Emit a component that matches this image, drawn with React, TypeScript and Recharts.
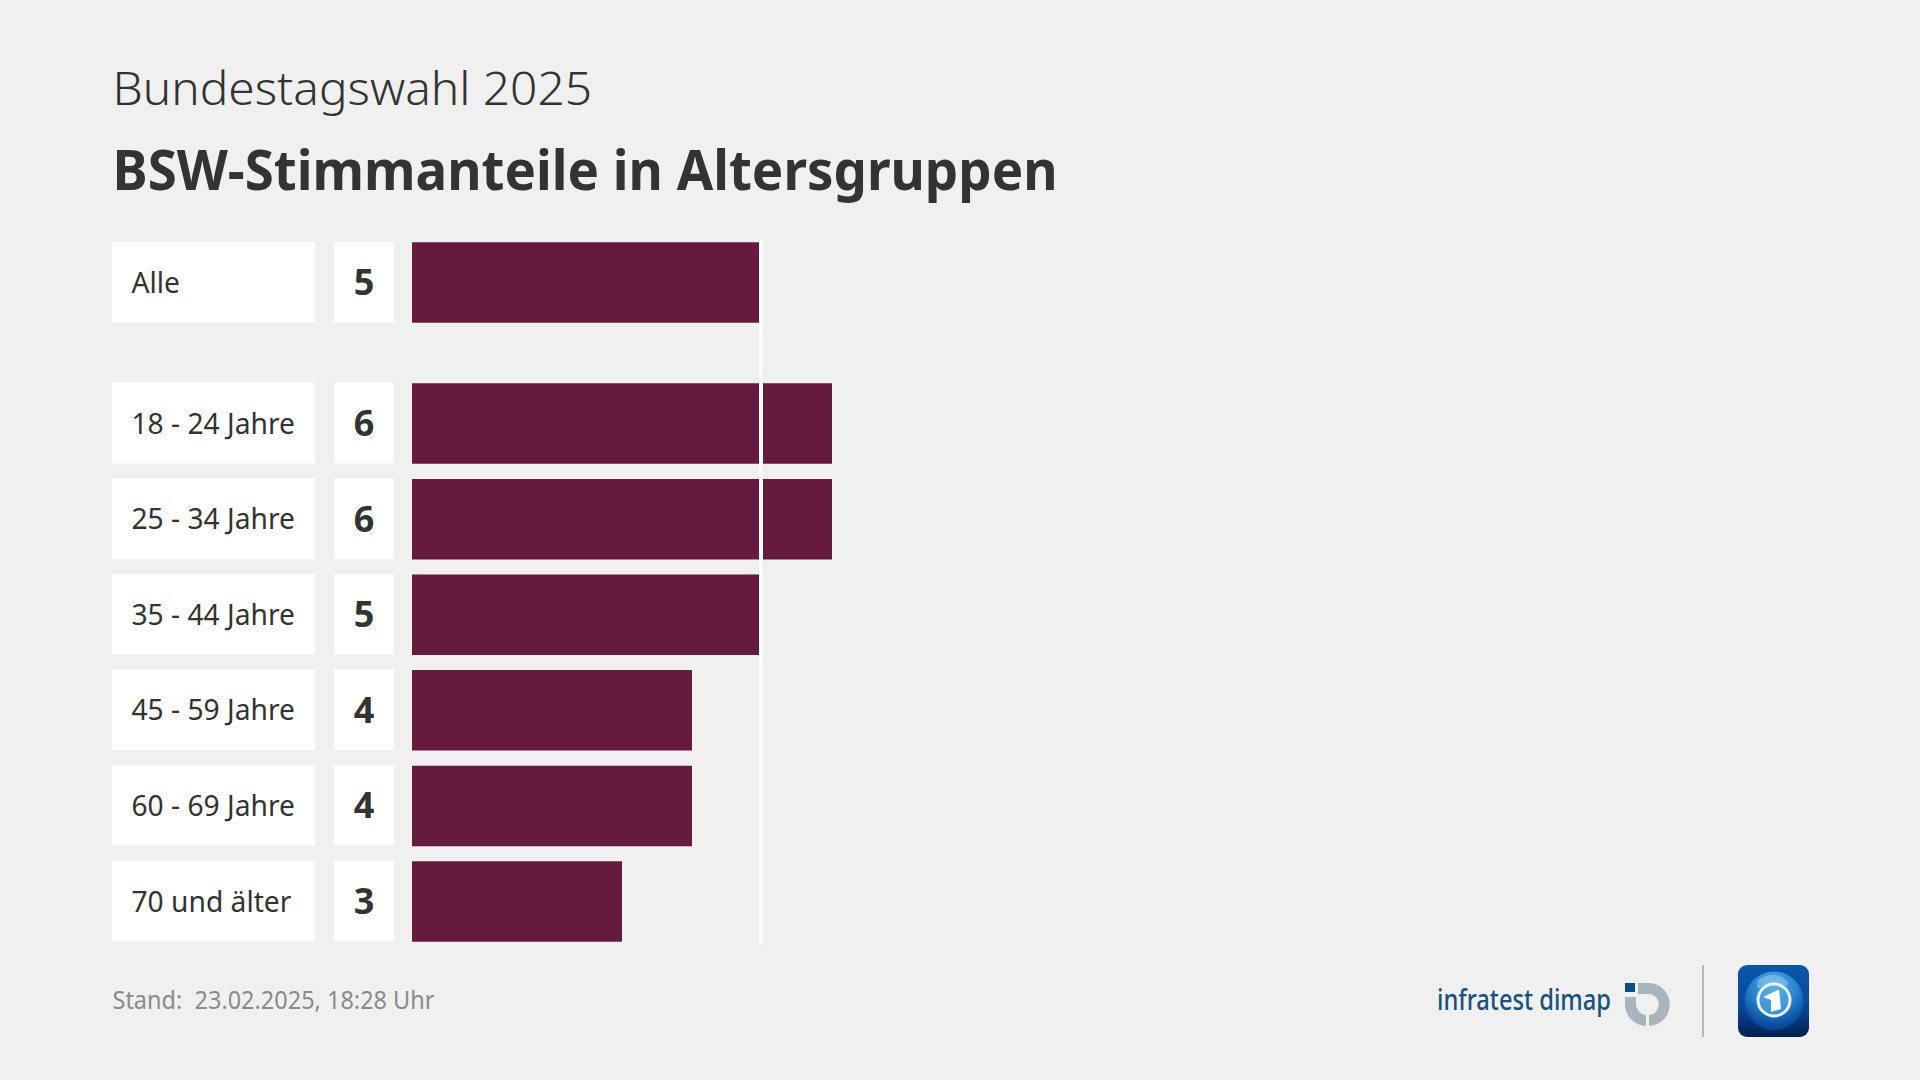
import React from "react";
import { BarChart, Bar, XAxis, YAxis, ReferenceLine } from "recharts";

const categories = ["Alle", "18 - 24 Jahre", "25 - 34 Jahre", "35 - 44 Jahre", "45 - 59 Jahre", "60 - 69 Jahre", "70 und älter"];
const shares = [5, 6, 6, 5, 4, 4, 3];
const hurdle = 5;

const FONT = "'Noto Sans', sans-serif";
const INK = "#333331";
const GROUP_GAP = 0.475;
const rows = categories.map((label, i) => ({ row: i === 0 ? 0 : i + GROUP_GAP, label, share: shares[i] }));
const rowTicks = rows.map((r) => r.row);

function RowTick(props: any) {
  const { x, y, payload } = props;
  const r = rows.find((d) => d.row === payload.value);
  if (!r) return null;
  const h = 80.5;
  return (
    <g>
      <rect x={x - 300} y={y - h / 2} width={203} height={h} fill="#ffffff" />
      <rect x={x - 78} y={y - h / 2} width={60} height={h} fill="#ffffff" />
      <text x={x - 280.5} y={y + 10.5} fontFamily={FONT} fontSize={28.2} fill={INK}>{r.label}</text>
      <text x={x - 48} y={y + 13} fontFamily={FONT} fontSize={36} fontWeight={700} fill={INK} textAnchor="middle">{r.share}</text>
    </g>
  );
}

function HurdleLine(props: any) {
  const { x1, x2, y1, y2 } = props;
  return <line x1={x1 - 1} x2={x2 - 1} y1={y1} y2={y2} stroke="#ffffff" strokeWidth={4} />;
}

function Logos() {
  return (
    <svg width={1920} height={1080} style={{ position: "absolute", left: 0, top: 0 }}>
      <defs>
        <linearGradient id="tile" x1="0" y1="0" x2="0" y2="1">
          <stop offset="0" stopColor="#0a57a8" />
          <stop offset="0.6" stopColor="#07479a" />
          <stop offset="1" stopColor="#03204f" />
        </linearGradient>
        <radialGradient id="globe" cx="0.5" cy="0.25" r="0.8">
          <stop offset="0" stopColor="#5fb4e8" />
          <stop offset="0.5" stopColor="#2580cc" />
          <stop offset="0.85" stopColor="#0a4a9c" />
          <stop offset="1" stopColor="#063a80" />
        </radialGradient>
      </defs>
      <text x={112.5} y={105} fontFamily={FONT} fontSize={46} fontWeight={300} fill={INK} textLength={479.5} lengthAdjust="spacingAndGlyphs">Bundestagswahl 2025</text>
      <text x={112.5} y={190} fontFamily={FONT} fontSize={56} fontWeight={700} fill={INK} textLength={945} lengthAdjust="spacingAndGlyphs">BSW-Stimmanteile in Altersgruppen</text>
      <text x={112.5} y={1009} fontFamily={FONT} fontSize={25} fill="#8a8a8a" textLength={322} lengthAdjust="spacingAndGlyphs" style={{ whiteSpace: "pre" }}>{"Stand:  23.02.2025, 18:28 Uhr"}</text>
      <text x={1437} y={1010} fontFamily={FONT} fontSize={29} fontWeight={500} fill="#17527f" textLength={174} lengthAdjust="spacingAndGlyphs">infratest dimap</text>
      <rect x={1625} y={983} width={10} height={9} fill="#0f4c86" />
      <path d="M1638 983 L1647.5 983 A21.5 21.5 0 0 1 1649 1026 L1649 1015 A10.5 10.5 0 0 0 1647.5 994 L1638 994 Z" fill="#a9b5bd" />
      <path d="M1625 997 L1636 997 L1636 1004.5 A11 11 0 0 0 1646 1015 L1646 1026 A21.5 21.5 0 0 1 1625 1004.5 Z" fill="#a9b5bd" />
      <rect x={1702} y={965} width={2} height={72} fill="#b9b9b9" />
      <rect x={1738} y={965} width={71} height={72} rx={9} fill="url(#tile)" />
      <circle cx={1774} cy={1001} r={29.5} fill="url(#globe)" />
      <path d="M1758 980 Q1770 972 1782 977 Q1792 984 1786 986 Q1772 982 1762 988 Q1755 990 1758 980 Z" fill="#8cc8ee" fillOpacity={0.55} />
      <circle cx={1774} cy={1000} r={16} fill="#5aa9e0" fillOpacity={0.55} stroke="#e8f3fb" strokeWidth={3} />
      <path d="M1763 997 L1779 989.5 L1781 1009 L1771 1012 L1771 1000 Z" fill="#f4f9fd" />
    </svg>
  );
}

export default function App() {
  return (
    <div style={{ position: "fixed", left: 0, top: 0, width: 1920, height: 1080, background: "#f0f0f0" }}>
      <Logos />
      <div style={{ position: "absolute", left: 0, top: 0 }}>
        <BarChart width={1920} height={1080} data={rows} layout="vertical" margin={{ top: 241, right: 948, bottom: 135, left: 112 }}>
          <XAxis type="number" dataKey="share" domain={[0, 8]} hide />
          <YAxis
            type="number"
            dataKey="row"
            domain={[-0.43, 6.935]}
            width={300}
            ticks={rowTicks}
            interval={0}
            axisLine={false}
            tickLine={false}
            tickSize={0}
            tickMargin={0}
            tick={<RowTick />}
          />
          <Bar dataKey="share" fill="#671a3f" barSize={80.5} isAnimationActive={false} />
          <ReferenceLine x={hurdle} shape={<HurdleLine />} />
        </BarChart>
      </div>
    </div>
  );
}
